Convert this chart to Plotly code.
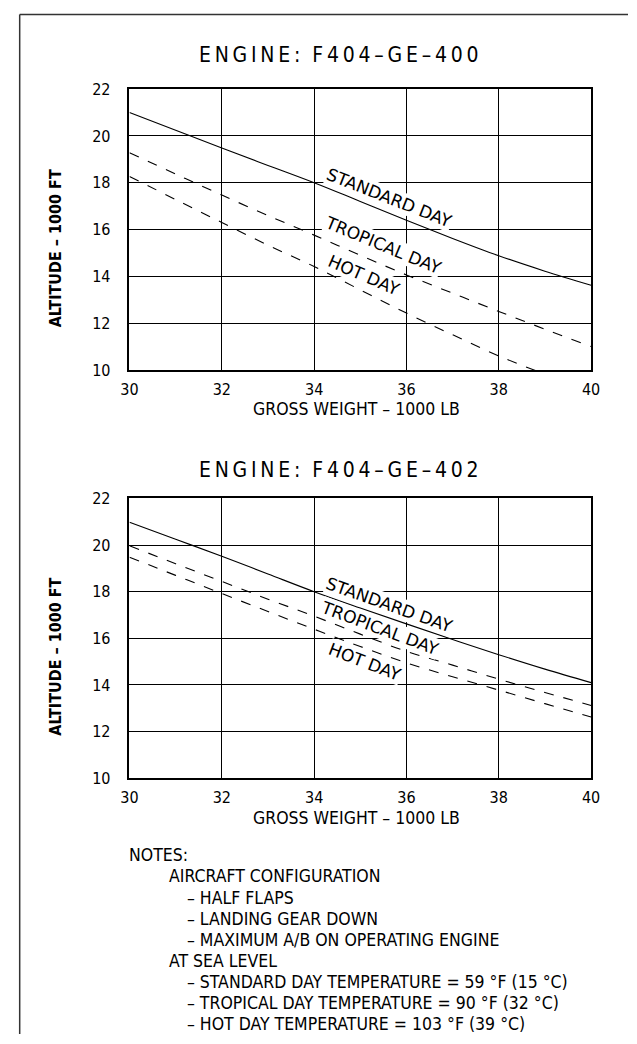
import plotly.graph_objects as go

W, H = 637, 1044

# ---------------- data ----------------
weight = [30, 31, 32, 33, 34, 35, 36, 37, 38, 39, 40]

std_400 = [21.0, 20.24, 19.48, 18.74, 18.0, 17.2, 16.4, 15.62, 14.88, 14.22, 13.62]
trop_400 = [19.28, 18.37, 17.47, 16.6, 15.76, 14.9, 14.06, 13.28, 12.5, 11.74, 11.0]
hot_400 = [18.27, 17.28, 16.3, 15.33, 14.42, 13.42, 12.43, 11.5, 10.6, 9.82, 9.1]

std_402 = [20.98, 20.25, 19.52, 18.76, 18.0, 17.3, 16.62, 15.95, 15.3, 14.68, 14.1]
trop_402 = [19.97, 19.2, 18.44, 17.68, 16.95, 16.18, 15.44, 14.85, 14.25, 13.68, 13.12]
hot_402 = [19.48, 18.7, 17.92, 17.15, 16.39, 15.65, 14.95, 14.35, 13.78, 13.2, 12.63]

x_ticks = [30, 32, 34, 36, 38, 40]
y_ticks = [10, 12, 14, 16, 18, 20, 22]

titles = ["ENGINE:  F404–GE–400", "ENGINE:  F404–GE–402"]
series_names = ["STANDARD DAY", "TROPICAL DAY", "HOT DAY"]
x_title = "GROSS WEIGHT – 1000 LB"
y_title = "ALTITUDE – 1000 FT"

notes = [
    ("NOTES:", 0),
    ("AIRCRAFT CONFIGURATION", 1),
    ("– HALF FLAPS", 2),
    ("– LANDING GEAR DOWN", 2),
    ("– MAXIMUM A/B ON OPERATING ENGINE", 2),
    ("AT SEA LEVEL", 1),
    ("– STANDARD DAY TEMPERATURE = 59 °F (15 °C)", 2),
    ("– TROPICAL DAY TEMPERATURE = 90 °F (32 °C)", 2),
    ("– HOT DAY TEMPERATURE = 103 °F (39 °C)", 2),
]

# ---------------- styling / layout helpers ----------------
FONT = "DejaVu Sans Condensed, Liberation Sans Narrow, DejaVu Sans, sans-serif"
FONT_B = "DejaVu Sans Condensed, DejaVu Sans, sans-serif"
LBL_FONT = "DejaVu Sans, sans-serif"


def px(x):
    return x / W


def py(y):
    return 1 - y / H


def spaced(s):
    # emulate drafting letter spacing with thin spaces
    out = []
    for i, ch in enumerate(s):
        out.append(ch if ch != " " else "\u00a0")
        if i < len(s) - 1 and ch != " " and s[i + 1] != " ":
            out.append("\u2009")
    return "".join(out)


plot_left, plot_right = 124, 599
panels = [
    dict(top=81.6, bottom=367.6, title_y=47),
    dict(top=498.5, bottom=783.5, title_y=470),
]

fig = go.Figure()

data_sets = [
    (std_400, trop_400, hot_400),
    (std_402, trop_402, hot_402),
]
dashes = ["solid", "10px,10px", "10px,10px"]

for i, (s, t, h) in enumerate(data_sets):
    xa = "x" if i == 0 else "x2"
    ya = "y" if i == 0 else "y2"
    for vals, name, d in zip((s, t, h), series_names, dashes):
        fig.add_trace(go.Scatter(
            x=weight, y=vals, mode="lines", name=name,
            line=dict(color="black", width=1.1, dash=d, shape="spline"),
            xaxis=xa, yaxis=ya, showlegend=False, hoverinfo="skip",
        ))

axis_common = dict(
    showgrid=True, gridcolor="black", gridwidth=1.2,
    showline=True, linecolor="black", linewidth=1.6, mirror=True,
    zeroline=False, ticks="", tickfont=dict(family=FONT, size=16, color="black"),
)

layout_axes = {}
for i, p in enumerate(panels):
    sfx = "" if i == 0 else "2"
    layout_axes["xaxis" + sfx] = dict(
        axis_common, domain=[px(plot_left), px(plot_right)], range=[30, 40],
        tickvals=x_ticks, ticktext=[str(v) for v in x_ticks],
        anchor="y" + sfx, ticklabelstandoff=4,
    )
    layout_axes["yaxis" + sfx] = dict(
        axis_common, domain=[py(p["bottom"]), py(p["top"])], range=[10, 22],
        tickvals=y_ticks, ticktext=[str(v) for v in y_ticks],
        anchor="x" + sfx, ticklabelstandoff=14,
    )

annotations = []
for i, p in enumerate(panels):
    annotations.append(dict(
        xref="paper", yref="paper", x=px(340), y=py(p["title_y"]),
        text=spaced(titles[i]), showarrow=False, xanchor="center", yanchor="middle",
        font=dict(family=FONT, size=21, color="black"),
    ))
    annotations.append(dict(
        xref="paper", yref="paper", x=px(358), y=py(p["bottom"] + 40),
        text=x_title, showarrow=False, xanchor="center", yanchor="middle",
        font=dict(family=FONT, size=17.5, color="black"),
    ))
    annotations.append(dict(
        xref="paper", yref="paper", x=px(47.5), y=py(p["bottom"] - 124),
        text="<b>" + y_title + "</b>", showarrow=False, xanchor="center", yanchor="middle",
        textangle=-90, font=dict(family=FONT_B, size=16, color="black"),
    ))

label_pos = [
    [(35.64, 17.36, 21.5), (35.49, 15.33, 22.5), (35.07, 14.04, 23.5)],
    [(35.64, 17.44, 19.5), (35.42, 16.46, 20.5), (35.11, 14.99, 21.0)],
]
for i, lbls in enumerate(label_pos):
    xa = "x" if i == 0 else "x2"
    ya = "y" if i == 0 else "y2"
    for (lx, ly, ang), name in zip(lbls, series_names):
        annotations.append(dict(
            xref=xa, yref=ya, x=lx, y=ly, text=name, showarrow=False,
            textangle=ang, xanchor="center", yanchor="middle",
            bgcolor="white", borderpad=0,
            font=dict(family=LBL_FONT, size=17, color="black"),
        ))

note_x = {0: 121, 1: 163, 2: 181}
note_y0, note_dy = 862, 21.5
for k, (txt, lvl) in enumerate(notes):
    annotations.append(dict(
        xref="paper", yref="paper", x=px(note_x[lvl]), y=py(note_y0 + k * note_dy),
        text=txt, showarrow=False, xanchor="left", yanchor="middle",
        font=dict(family=FONT, size=17.5, color="black"),
    ))

# page frame: only top and left edges fall inside the canvas
shapes = [
    dict(type="line", xref="paper", yref="paper",
         x0=px(11), x1=1, y0=py(5.5), y1=py(5.5),
         line=dict(color="#333333", width=1.5), layer="below"),
    dict(type="line", xref="paper", yref="paper",
         x0=px(11), x1=px(11), y0=0, y1=py(5.5),
         line=dict(color="#333333", width=1.5), layer="below"),
]

fig.update_layout(
    width=W, height=H, margin=dict(l=0, r=0, t=0, b=0),
    paper_bgcolor="white", plot_bgcolor="white",
    annotations=annotations, shapes=shapes,
    **layout_axes,
)

fig.write_html(
    "out.html",
    config={"displayModeBar": False},
    post_script="document.body.style.margin='0';document.body.style.overflow='hidden';",
)
